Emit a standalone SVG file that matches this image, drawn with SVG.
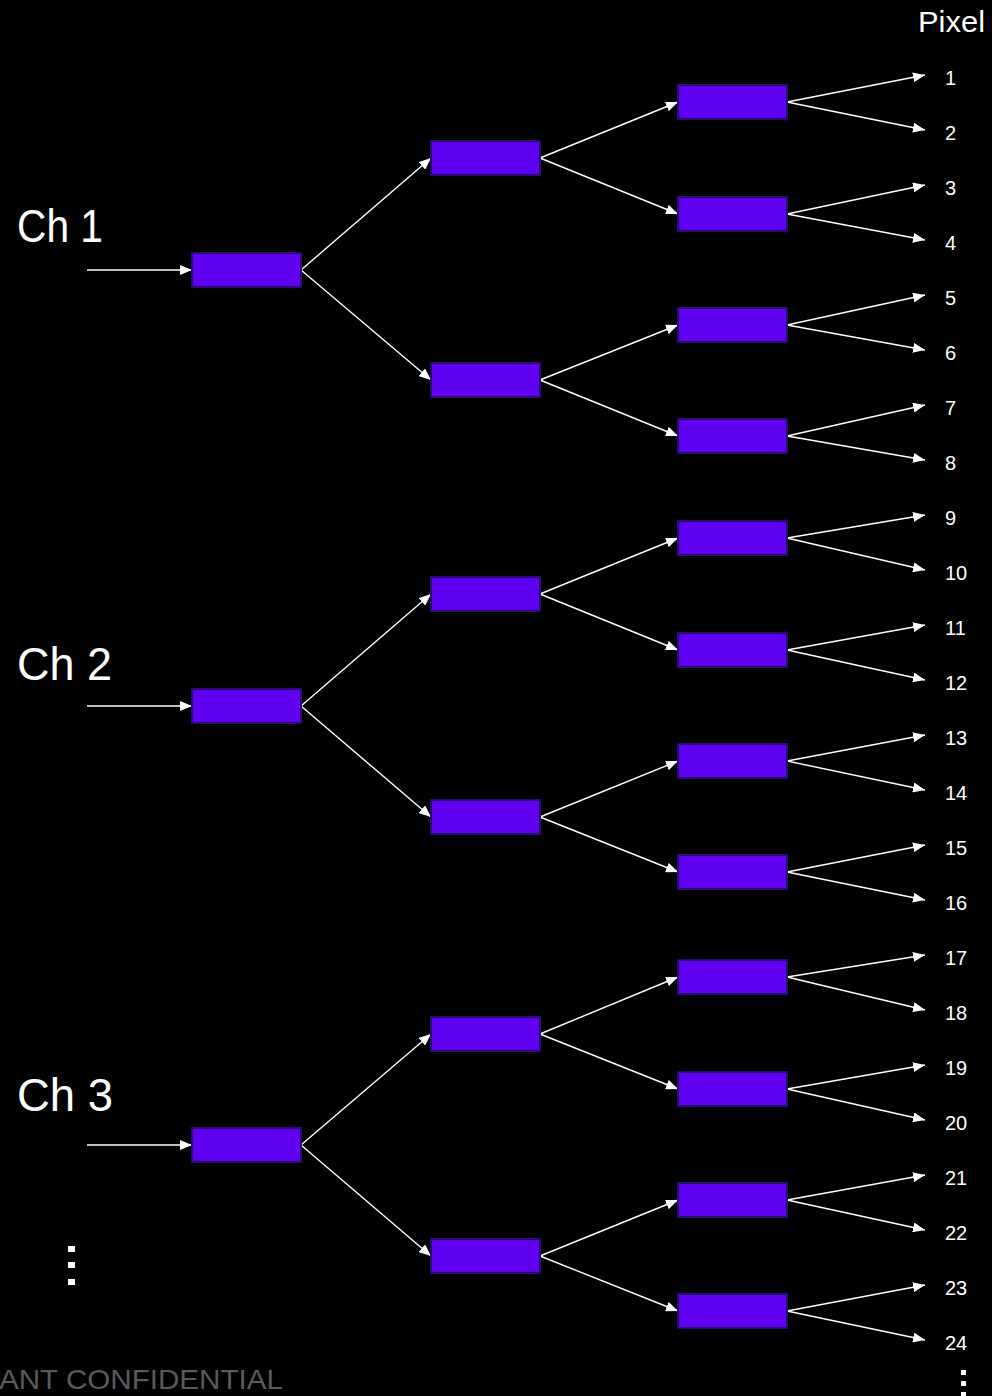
<svg xmlns="http://www.w3.org/2000/svg" width="992" height="1396" viewBox="0 0 992 1396">
<style>
.bg{fill:#000}
.box{fill:#5f00f0;stroke:#2a0b72;stroke-width:2}
.c{stroke:#fff;stroke-width:1.4;fill:none;marker-end:url(#ah)}
.ch{font-family:"Liberation Sans",Arial,sans-serif;font-size:46px;fill:#fff}
.px{font-family:"Liberation Sans",Arial,sans-serif;font-size:20px;fill:#fff}
.hd{font-family:"Liberation Sans",Arial,sans-serif;font-size:29px;fill:#fff}
.conf{font-family:"Liberation Sans",Arial,sans-serif;font-size:28px;fill:#5a5a5a}
.dot{fill:#fff}
</style>
<defs>
<marker id="ah" markerUnits="userSpaceOnUse" markerWidth="12" markerHeight="10" refX="12" refY="5" orient="auto">
<path d="M0,0 L12,5 L0,10 z" fill="#fff"/>
</marker>
</defs>
<rect class="bg" x="0" y="0" width="992" height="1396"/>

<g id="connectors">
<path class="c" d="M87,270 L192,270"/>
<path class="c" d="M87,706 L192,706"/>
<path class="c" d="M87,1145 L192,1145"/>
<path class="c" d="M301,270 L431,158"/>
<path class="c" d="M301,270 L431,380"/>
<path class="c" d="M301,706 L431,594"/>
<path class="c" d="M301,706 L431,817"/>
<path class="c" d="M301,1145 L431,1034"/>
<path class="c" d="M301,1145 L431,1256"/>
<path class="c" d="M540,158 L678,102"/>
<path class="c" d="M540,158 L678,214"/>
<path class="c" d="M540,380 L678,325"/>
<path class="c" d="M540,380 L678,436"/>
<path class="c" d="M540,594 L678,538"/>
<path class="c" d="M540,594 L678,650"/>
<path class="c" d="M540,817 L678,761"/>
<path class="c" d="M540,817 L678,872"/>
<path class="c" d="M540,1034 L678,977"/>
<path class="c" d="M540,1034 L678,1089"/>
<path class="c" d="M540,1256 L678,1200"/>
<path class="c" d="M540,1256 L678,1311"/>
<path class="c" d="M787,102 L925,75"/>
<path class="c" d="M787,102 L925,130"/>
<path class="c" d="M787,214 L925,185"/>
<path class="c" d="M787,214 L925,240"/>
<path class="c" d="M787,325 L925,295"/>
<path class="c" d="M787,325 L925,350"/>
<path class="c" d="M787,436 L925,405"/>
<path class="c" d="M787,436 L925,460"/>
<path class="c" d="M787,538 L925,515"/>
<path class="c" d="M787,538 L925,570"/>
<path class="c" d="M787,650 L925,625"/>
<path class="c" d="M787,650 L925,680"/>
<path class="c" d="M787,761 L925,735"/>
<path class="c" d="M787,761 L925,790"/>
<path class="c" d="M787,872 L925,845"/>
<path class="c" d="M787,872 L925,900"/>
<path class="c" d="M787,977 L925,955"/>
<path class="c" d="M787,977 L925,1010"/>
<path class="c" d="M787,1089 L925,1065"/>
<path class="c" d="M787,1089 L925,1120"/>
<path class="c" d="M787,1200 L925,1175"/>
<path class="c" d="M787,1200 L925,1230"/>
<path class="c" d="M787,1311 L925,1285"/>
<path class="c" d="M787,1311 L925,1340"/>
</g>

<g id="ch1-a"><rect class="box" x="192" y="253" width="109" height="34"/></g>
<g id="ch1-b1"><rect class="box" x="431" y="141" width="109" height="34"/></g>
<g id="ch1-b2"><rect class="box" x="431" y="363" width="109" height="34"/></g>
<g id="ch1-c1"><rect class="box" x="678" y="85" width="109" height="34"/></g>
<g id="ch1-c2"><rect class="box" x="678" y="197" width="109" height="34"/></g>
<g id="ch1-c3"><rect class="box" x="678" y="308" width="109" height="34"/></g>
<g id="ch1-c4"><rect class="box" x="678" y="419" width="109" height="34"/></g>

<g id="ch2-a"><rect class="box" x="192" y="689" width="109" height="34"/></g>
<g id="ch2-b1"><rect class="box" x="431" y="577" width="109" height="34"/></g>
<g id="ch2-b2"><rect class="box" x="431" y="800" width="109" height="34"/></g>
<g id="ch2-c1"><rect class="box" x="678" y="521" width="109" height="34"/></g>
<g id="ch2-c2"><rect class="box" x="678" y="633" width="109" height="34"/></g>
<g id="ch2-c3"><rect class="box" x="678" y="744" width="109" height="34"/></g>
<g id="ch2-c4"><rect class="box" x="678" y="855" width="109" height="34"/></g>

<g id="ch3-a"><rect class="box" x="192" y="1128" width="109" height="34"/></g>
<g id="ch3-b1"><rect class="box" x="431" y="1017" width="109" height="34"/></g>
<g id="ch3-b2"><rect class="box" x="431" y="1239" width="109" height="34"/></g>
<g id="ch3-c1"><rect class="box" x="678" y="960" width="109" height="34"/></g>
<g id="ch3-c2"><rect class="box" x="678" y="1072" width="109" height="34"/></g>
<g id="ch3-c3"><rect class="box" x="678" y="1183" width="109" height="34"/></g>
<g id="ch3-c4"><rect class="box" x="678" y="1294" width="109" height="34"/></g>

<g id="labels">
<text class="hd" x="918" y="32" textLength="67" lengthAdjust="spacingAndGlyphs">Pixel</text>
<text class="ch" x="17" y="242" textLength="86" lengthAdjust="spacingAndGlyphs">Ch 1</text>
<text class="ch" x="17" y="680" textLength="95" lengthAdjust="spacingAndGlyphs">Ch 2</text>
<text class="ch" x="17" y="1111" textLength="96" lengthAdjust="spacingAndGlyphs">Ch 3</text>
<text class="px" x="945" y="85">1</text>
<text class="px" x="945" y="140">2</text>
<text class="px" x="945" y="195">3</text>
<text class="px" x="945" y="250">4</text>
<text class="px" x="945" y="305">5</text>
<text class="px" x="945" y="360">6</text>
<text class="px" x="945" y="415">7</text>
<text class="px" x="945" y="470">8</text>
<text class="px" x="945" y="525">9</text>
<text class="px" x="945" y="580">10</text>
<text class="px" x="945" y="635">11</text>
<text class="px" x="945" y="690">12</text>
<text class="px" x="945" y="745">13</text>
<text class="px" x="945" y="800">14</text>
<text class="px" x="945" y="855">15</text>
<text class="px" x="945" y="910">16</text>
<text class="px" x="945" y="965">17</text>
<text class="px" x="945" y="1020">18</text>
<text class="px" x="945" y="1075">19</text>
<text class="px" x="945" y="1130">20</text>
<text class="px" x="945" y="1185">21</text>
<text class="px" x="945" y="1240">22</text>
<text class="px" x="945" y="1295">23</text>
<text class="px" x="945" y="1350">24</text>
<text class="conf" x="-1" y="1389" textLength="284" lengthAdjust="spacingAndGlyphs">ANT CONFIDENTIAL</text>
</g>

<g id="ellipsis-left">
<rect class="dot" x="68" y="1246" width="7" height="6"/>
<rect class="dot" x="68" y="1262" width="7" height="6"/>
<rect class="dot" x="68" y="1279" width="7" height="6"/>
</g>
<g id="ellipsis-right">
<rect class="dot" x="961" y="1370" width="5" height="5"/>
<rect class="dot" x="961" y="1381" width="5" height="5"/>
<rect class="dot" x="961" y="1392" width="5" height="4"/>
</g>
</svg>
